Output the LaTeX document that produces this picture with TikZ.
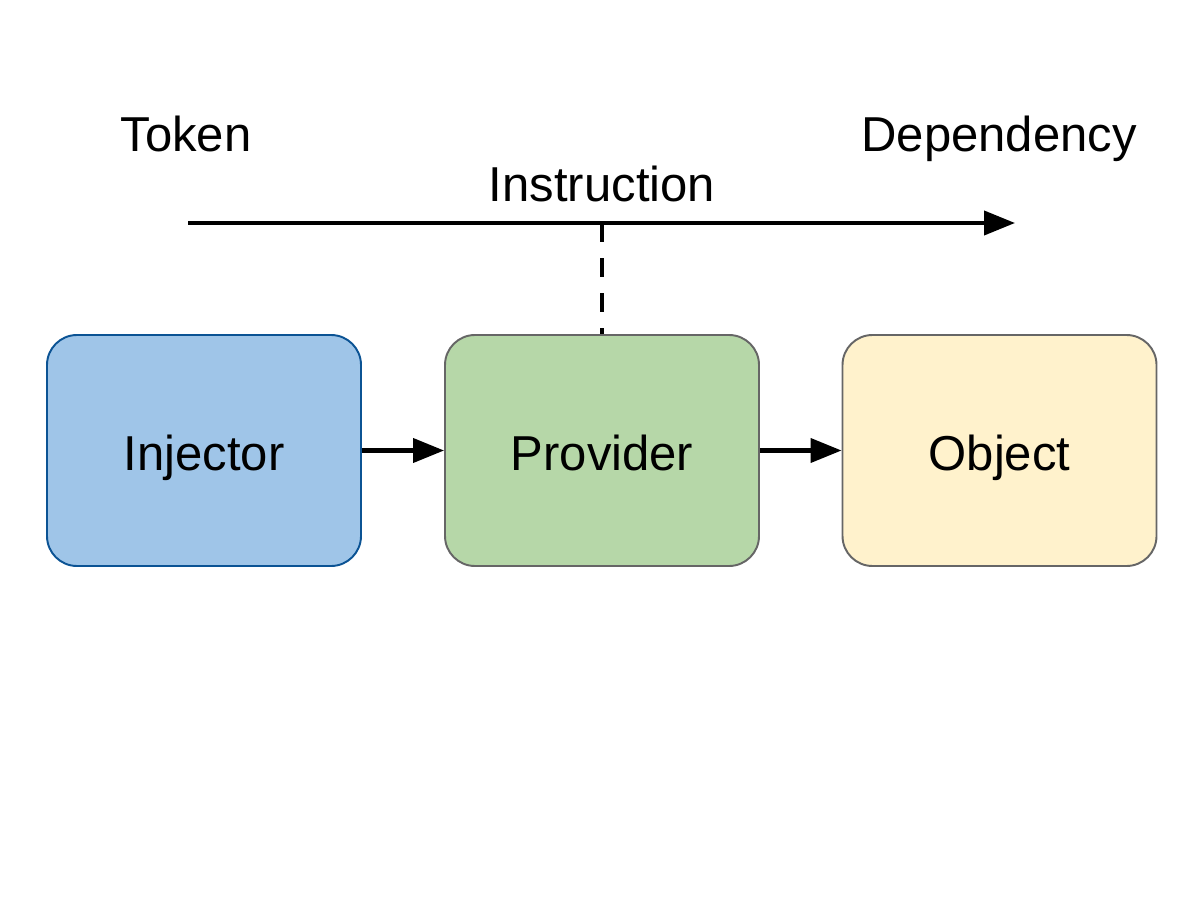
\documentclass[tikz,border=0pt]{standalone}
\usepackage{fontspec}
\setmainfont{Liberation Sans}
\usetikzlibrary{arrows.meta, positioning}
\definecolor{cblue}{HTML}{9FC5E8}
\definecolor{cblueline}{HTML}{0B5394}
\definecolor{cgreen}{HTML}{B6D7A8}
\definecolor{cyellow}{HTML}{FFF2CC}
\definecolor{cgrey}{HTML}{666666}
\tikzset{
  every picture/.style={font=\fontsize{27.9}{33}\selectfont},
  box/.style={draw=cgrey, fill=#1, rounded corners=6mm, line width=1.1pt,
    minimum width=6.28cm, minimum height=4.62cm, inner sep=0pt,
    text height=7.8mm, text depth=0pt},
  box/.default=white,
  arrow/.style={-{Triangle[length=6.2mm, width=4.8mm]}, line width=2.3pt},
  label/.style={anchor=base, inner sep=0pt},
}

\begin{document}
\begin{tikzpicture}
  \useasboundingbox (0,0) rectangle (24,-18.02);
  % components
  \node[box=cblue, draw=cblueline] (inj) at (4.08,-9.01) {Injector};
  \node[box=cgreen] (prov) at (12.04,-9.01) {Provider};
  \node[box=cyellow] (obj) at (19.99,-9.01) {Object};
  \draw[arrow] (inj) -- (prov);
  \draw[arrow] (prov) -- (obj);
  % token -> dependency
  \coordinate (tok) at (3.76,-4.46);
  \coordinate (dep) at (20.3,-4.46);
  \coordinate (ins) at (prov.north |- tok);
  \node[label] (toklbl) at (3.72,-3.04) {Token};
  \node[label] (deplbl) at (19.98,-3.04) {Dependency};
  \node[label] (inslbl) at (12.04,-4.04) {Instruction};
  \draw[arrow] (tok) -- (dep);
  \draw[line width=2.3pt, dash pattern=on 3.8mm off 3.2mm] (ins) -- (prov.north);
\end{tikzpicture}
\end{document}
